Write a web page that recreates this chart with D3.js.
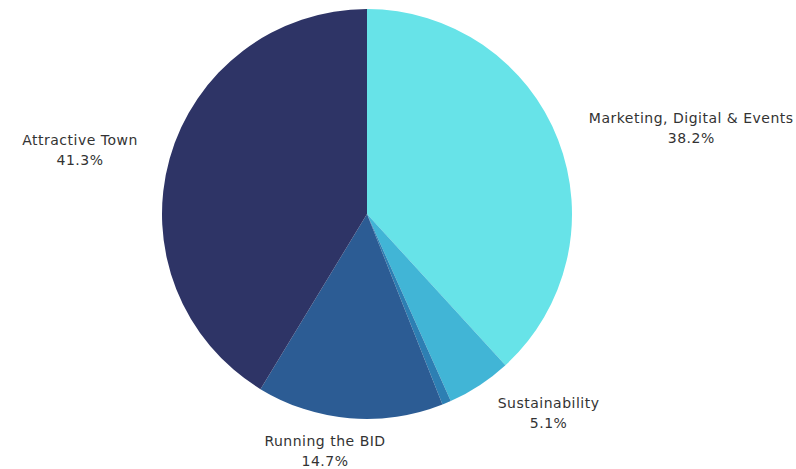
<!DOCTYPE html>
<html><head><meta charset="utf-8">
<script src="https://cdn.jsdelivr.net/npm/d3@7/dist/d3.min.js"></script>
<style>body{margin:0;background:#fff}svg{display:block}</style>
</head><body>
<svg id="chart" width="796" height="469"></svg>
<script>
const categories = ["Marketing, Digital & Events", "Sustainability", "Other", "Running the BID", "Attractive Town"];
const values = [38.2, 5.1, 0.7, 14.7, 41.3];
const labels = ["38.2%", "5.1%", "", "14.7%", "41.3%"];
const colors = ["#67e3e8", "#41b5d6", "#2d7fb3", "#2c5c94", "#2e3466"];

const svg = d3.select("#chart");
const cx = 367, cy = 214, r = 205;
const g = svg.append("g").attr("transform", `translate(${cx},${cy})`);
const data = categories.map((c, i) => ({c, v: values[i], l: labels[i], col: colors[i]}));
const pie = d3.pie().value(d => d.v).sort(null);
const arc = d3.arc().innerRadius(0).outerRadius(r);
const arcs = pie(data);
g.selectAll("path").data(arcs).join("path")
  .attr("d", arc).attr("fill", d => d.data.col);

const R = 238;
arcs.forEach(a => {
  if (!a.data.l) return;
  const m = (a.startAngle + a.endAngle) / 2;
  const s = Math.sin(m);
  const px = R * s, py = -R * Math.cos(m);
  const t = g.append("text").attr("text-anchor", "middle")
    .attr("font-family", "'DejaVu Sans', sans-serif").attr("font-size", 14)
    .attr("letter-spacing", 0.5)
    .attr("fill", "#333");
  t.append("tspan").attr("x", 0).attr("dy", 0).text(a.data.c);
  t.append("tspan").attr("x", 0).attr("dy", 20).text(a.data.l);
  const bb = t.node().getBBox();
  const w = bb.width, h = bb.height;
  let bx;
  if (Math.abs(s) > 0.3) bx = px + Math.sign(s) * w / 2;
  else bx = px - 0.18 * w; // bottom labels sit slightly left of the anchor
  const by = py;
  t.attr("transform", `translate(${bx},${by - bb.y - h / 2})`);
});
</script>
</body></html>
